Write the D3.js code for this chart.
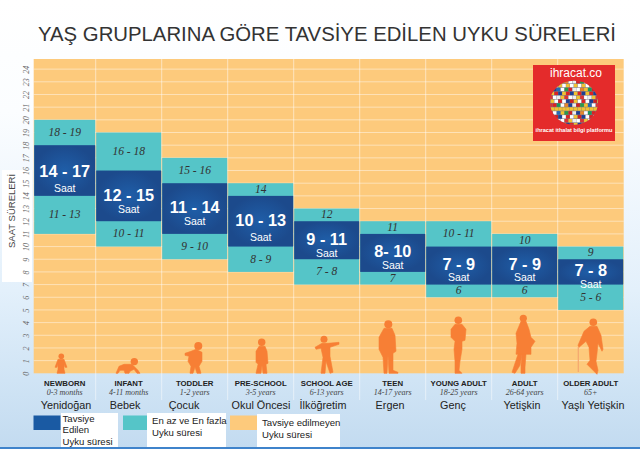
<!DOCTYPE html>
<html>
<head>
<meta charset="utf-8">
<script src="https://cdnjs.cloudflare.com/ajax/libs/d3/7.8.5/d3.min.js"></script>
<style>
html, body { margin: 0; padding: 0; background: #fff; }
svg { display: block; font-family: "Liberation Sans", Arial, sans-serif; }
.serif { font-family: "Liberation Serif", serif; font-style: italic; }
</style>
</head>
<body>
<div id="chart"></div>
<script>
// chart values
const groups = ["NEWBORN", "INFANT", "TODDLER", "PRE-SCHOOL", "SCHOOL AGE", "TEEN", "YOUNG ADULT", "ADULT", "OLDER ADULT"];
const ages = ["0-3 months", "4-11 months", "1-2 years", "3-5 years", "6-13 years", "14-17 years", "18-25 years", "26-64 years", "65+"];
const turkish = ["Yenidoğan", "Bebek", "Çocuk", "Okul Öncesi", "İlköğretim", "Ergen", "Genç", "Yetişkin", "Yaşlı Yetişkin"];

// drawn heights of the three stacked blocks
const tealBottom = [11, 10, 9, 8, 7, 7, 6, 6, 5];
const blueBottom = [14, 12, 11, 10, 9, 8, 7, 7, 7];
const blueTop = [18, 16, 15, 14, 12, 11, 10, 10, 9];
const tealTop = [20, 19, 17, 15, 13, 12, 12, 11, 10];

const blueLabels = ["14 - 17", "12 - 15", "11 - 14", "10 - 13", "9 - 11", "8- 10", "7 - 9", "7 - 9", "7 - 8"];
const upperLabels = ["18 - 19", "16 - 18", "15 - 16", "14", "12", "11", "10 - 11", "10", "9"];
const lowerLabels = ["11 - 13", "10 - 11", "9 - 10", "8 - 9", "7 - 8", "7", "6", "6", "5 - 6"];

const hourTicks = d3.range(0, 25);

const legendItems = [
  {color: "#1a5aa3", lines: ["Tavsiye", "Edilen", "Uyku süresi"]},
  {color: "#55c5c8", lines: ["En az ve En fazla", "Uyku süresi"]},
  {color: "#fdca7c", lines: ["Tavsiye edilmeyen", "Uyku süresi"]}
];

const width = 640, height = 449;
const plot = {left: 33.7, right: 623.7, top: 59, bottom: 373.3};

const svg = d3.select("#chart").append("svg")
  .attr("width", width)
  .attr("height", height);

const defs = svg.append("defs");

const bg = defs.append("linearGradient").attr("id", "bg")
  .attr("x1", 0).attr("y1", 0).attr("x2", 0).attr("y2", 1);
bg.append("stop").attr("offset", "0%").attr("stop-color", "#ffffff");
bg.append("stop").attr("offset", "25%").attr("stop-color", "#fbfdff");
bg.append("stop").attr("offset", "65%").attr("stop-color", "#e3f0fb");
bg.append("stop").attr("offset", "85%").attr("stop-color", "#d0e4f5");
bg.append("stop").attr("offset", "100%").attr("stop-color", "#c3dbf0");

const blueGrad = defs.append("radialGradient").attr("id", "blue");
blueGrad.append("stop").attr("offset", "0%").attr("stop-color", "#1f5ea8");
blueGrad.append("stop").attr("offset", "100%").attr("stop-color", "#1c4a8c");

svg.append("rect").attr("width", width).attr("height", height - 2).attr("fill", "url(#bg)");
svg.append("rect").attr("y", height - 2).attr("width", width).attr("height", 2).attr("fill", "#3f83cb");
// pale patch behind the axis title
svg.append("rect").attr("x", 2).attr("y", 170).attr("width", 30).attr("height", 112).attr("fill", "#fff");

// first column is cut by the left edge of the plot
const x = d3.scaleBand().domain(groups).range([29.7, plot.right]);
const y = d3.scaleLinear().domain([0, 24.8]).range([plot.bottom, plot.top]);

const colLeft = d => Math.max(x(d), plot.left);
const colWidth = d => x(d) + x.bandwidth() - colLeft(d);
const colMid = d => colLeft(d) + colWidth(d) / 2;

svg.append("rect")
  .attr("x", plot.left).attr("y", plot.top)
  .attr("width", plot.right - plot.left).attr("height", plot.bottom - plot.top)
  .attr("fill", "#fdca7c");

// hour lines
svg.append("g").selectAll("line").data(hourTicks.slice(1)).join("line")
  .attr("x1", plot.left).attr("x2", plot.right)
  .attr("y1", d => y(d)).attr("y2", d => y(d))
  .attr("stroke", "#fff").attr("stroke-opacity", 0.45);

// column lines run on below the plot
svg.append("g").selectAll("line").data(groups.slice(1)).join("line")
  .attr("x1", d => x(d)).attr("x2", d => x(d))
  .attr("y1", plot.top).attr("y2", 400)
  .attr("stroke", "#fff").attr("stroke-opacity", 0.5);

const cols = svg.append("g").selectAll("g").data(groups).join("g");

cols.append("rect")
  .attr("x", d => colLeft(d) + 0.5)
  .attr("width", d => colWidth(d) - 1)
  .attr("y", (d, i) => y(tealTop[i]))
  .attr("height", (d, i) => y(tealBottom[i]) - y(tealTop[i]))
  .attr("fill", "#55c5c8");

cols.append("rect")
  .attr("x", d => colLeft(d) + 0.5)
  .attr("width", d => colWidth(d) - 1)
  .attr("y", (d, i) => y(blueTop[i]))
  .attr("height", (d, i) => y(blueBottom[i]) - y(blueTop[i]))
  .attr("fill", "url(#blue)");

// y axis, numbers turned on their side
const yAxis = svg.append("g")
  .attr("transform", `translate(${plot.left},0)`)
  .call(d3.axisLeft(y).tickValues(hourTicks).tickSize(0).tickFormat(d3.format("d")));
yAxis.select(".domain").remove();
yAxis.selectAll("text")
  .attr("class", "serif")
  .attr("x", 0).attr("dy", 0)
  .attr("transform", "translate(-4.5,0) rotate(-90)")
  .attr("text-anchor", "middle")
  .attr("font-size", 8)
  .attr("fill", "#666");

svg.append("text")
  .attr("transform", "translate(15,248) rotate(-90)")
  .attr("font-size", 9.5)
  .attr("fill", "#444")
  .text("SAAT SÜRELERİ");

// title
svg.append("text")
  .attr("x", 38).attr("y", 41)
  .attr("font-size", 20)
  .attr("textLength", 578)
  .attr("lengthAdjust", "spacingAndGlyphs")
  .attr("fill", "#333")
  .text("YAŞ GRUPLARINA GÖRE TAVSİYE EDİLEN UYKU SÜRELERİ");

// text in the blocks, offsets from the middle of the blue block
const numberDrop = [6, 5.2, 4.7, 5, 5, 3.7, 4, 4, 4];
const saatDrop = [21, 17, 16.5, 19.5, 16.7, 16, 15.7, 15.7, 16.5];
const blueMid = i => (y(blueTop[i]) + y(blueBottom[i])) / 2;

cols.append("text")
  .attr("x", colMid)
  .attr("y", (d, i) => blueMid(i) + numberDrop[i])
  .attr("text-anchor", "middle")
  .attr("font-size", 16.3)
  .attr("font-weight", "bold")
  .attr("fill", "#fff")
  .text((d, i) => blueLabels[i]);

cols.append("text")
  .attr("x", colMid)
  .attr("y", (d, i) => blueMid(i) + saatDrop[i])
  .attr("text-anchor", "middle")
  .attr("font-size", 10.5)
  .attr("fill", "#fff")
  .text("Saat");

cols.append("text")
  .attr("class", "serif")
  .attr("x", colMid)
  .attr("y", (d, i) => (y(tealTop[i]) + y(blueTop[i])) / 2 + 3.5)
  .attr("text-anchor", "middle")
  .attr("font-size", 11.5)
  .attr("fill", "#333")
  .text((d, i) => upperLabels[i]);

cols.append("text")
  .attr("class", "serif")
  .attr("x", colMid)
  .attr("y", (d, i) => (y(blueBottom[i]) + y(tealBottom[i])) / 2 + 3.5)
  .attr("text-anchor", "middle")
  .attr("font-size", 11.5)
  .attr("fill", "#333")
  .text((d, i) => lowerLabels[i]);

// labels under the plot
cols.append("text")
  .attr("x", colMid).attr("y", 386)
  .attr("text-anchor", "middle")
  .attr("font-size", 7.8)
  .attr("font-weight", "bold")
  .attr("fill", "#222")
  .text(d => d);

cols.append("text")
  .attr("class", "serif")
  .attr("x", colMid).attr("y", 394.7)
  .attr("text-anchor", "middle")
  .attr("font-size", 8)
  .attr("fill", "#444")
  .text((d, i) => ages[i]);

const turkishX = [66, 125, 184, 261, 323, 390, 453, 522, 593];
svg.append("g").selectAll("text").data(turkish).join("text")
  .attr("x", (d, i) => turkishX[i]).attr("y", 409)
  .attr("text-anchor", "middle")
  .attr("font-size", 10.8)
  .attr("fill", "#222")
  .text(d => d);

// people, local coords: feet on y=0, one unit is one pixel
const people = [
  {cx: 61, head: [0.3, -17, 2.8], body: "M-3,-14 L3,-14 L6,-6 L4,-6 L3,-9 L3,-4 L4,0 L-4,0 L-3,-4 L-3,-9 L-4,-6 L-6,-6 Z"},
  {cx: 127, head: [7.3, -11.7, 3.7], body: "M-11,0 L-8,-7 L-3,-9 L5,-9 L11,-3 L13,0 L10,0 L7,-4 L3,-2 L2,0 L-2,0 L-3,-3 L-7,-3 L-9,0 Z"},
  {cx: 194, head: [4.3, -27.3, 4], body: "M2,-24 L8,-21 L8,-12 L5,-7 L7,0 L3,0 L1,-6 L-1,0 L-4,0 L-3,-7 L-6,-12 L-5,-17 L-9,-18 L-9,-20 L-3,-22 Z"},
  {cx: 262, head: [-0.3, -31, 3.7], body: "M-3,-27 L3,-27 L5,-22 L6,-10 L4,-9 L5,0 L1,0 L0,-8 L-1,0 L-6,0 L-4,-9 L-6,-11 L-6,-22 Z"},
  {cx: 326, head: [-2, -34, 3.5], body: "M-4,-30 L2,-30 L13,-31 L13,-29 L4,-26 L4,-17 L7,-1 L4,0 L0,-12 L-1,0 L-5,0 L-3,-16 L-5,-25 L-10,-24 L-11,-26 Z"},
  {cx: 388, head: [0.3, -49, 4], body: "M-4,-45 L4,-45 L7,-38 L8,-22 L5,-20 L5,-3 L10,-1 L10,0 L1,0 L0,-18 L-1,0 L-4,0 L-5,-16 L-9,-24 L-9,-36 Z"},
  {cx: 458, head: [0.3, -53, 3.8], body: "M-3,-49 L4,-49 L8,-44 L7,-33 L4,-32 L4,-24 L2,-12 L1,-3 L4,0 L-3,0 L-3,-12 L-4,-24 L-3,-32 L-7,-36 L-7,-44 Z"},
  {cx: 523, head: [0.3, -55, 3.6], body: "M-2,-52 L3,-52 L6,-44 L8,-36 L12,-32 L8,-26 L8,-19 L-7,-19 L-6,-30 L-7,-40 Z M-5,-19 L-1,-19 L-3,-8 L-8,0 L-11,-1 Z M-1,-19 L3,-19 L2,-6 L2,0 L-2,0 L-2,-8 Z"},
  {cx: 590, head: [3.3, -51, 3.8], body: "M0,-47 L7,-47 L11,-38 L13,-24 L12,-22 L8,-30 L7,-20 L6,-12 L8,-3 L7,1 L0,-6 L-3,-9 L0,-13 L-1,-26 L-4,-32 L-11,-26 L-12,-28 L-6,-42 Z"}
];
const personGroups = svg.append("g").selectAll("g").data(people).join("g")
  .attr("transform", d => `translate(${d.cx},${plot.bottom})`)
  .attr("fill", "#f77f35");
personGroups.append("circle")
  .attr("cx", d => d.head[0]).attr("cy", d => d.head[1]).attr("r", d => d.head[2]);
personGroups.append("path").attr("d", d => d.body)
  .attr("stroke", "#f77f35").attr("stroke-width", 0.6).attr("stroke-linejoin", "round");
svg.append("line")
  .attr("x1", 578.3).attr("x2", 578.3).attr("y1", 347).attr("y2", 372)
  .attr("stroke", "#f4a66f").attr("stroke-width", 1.2);

// legend
const legendBoxes = [
  {sx: 33.5, sw: 27, bx: 61, bw: 57, by: 413, ty: 421.7, gap: 11.7, tx: 62.5},
  {sx: 123, sw: 24, bx: 147, bw: 79, by: 413, ty: 424, gap: 11.5, tx: 152},
  {sx: 230, sw: 27, bx: 257, bw: 83, by: 414, ty: 426, gap: 11.5, tx: 262}
];
const legend = svg.append("g").selectAll("g").data(legendItems).join("g");
legend.append("rect")
  .attr("x", (d, i) => legendBoxes[i].sx).attr("y", 415.5)
  .attr("width", (d, i) => legendBoxes[i].sw).attr("height", 14.5)
  .attr("fill", d => d.color);
legend.append("rect")
  .attr("x", (d, i) => legendBoxes[i].bx).attr("y", (d, i) => legendBoxes[i].by)
  .attr("width", (d, i) => legendBoxes[i].bw).attr("height", (d, i) => 447 - legendBoxes[i].by)
  .attr("fill", "#fff");
legend.each(function(d, i) {
  const box = legendBoxes[i];
  d3.select(this).selectAll("text").data(d.lines).join("text")
    .attr("x", box.tx)
    .attr("y", (t, k) => box.ty + k * box.gap)
    .attr("font-size", 9.6)
    .attr("fill", "#222")
    .text(t => t);
});

// logo block
const logo = svg.append("g");
logo.append("rect").attr("x", 533).attr("y", 65).attr("width", 82).attr("height", 76).attr("fill", "#e42b2b");
logo.append("text").attr("x", 576).attr("y", 77).attr("text-anchor", "middle")
  .attr("font-size", 12).attr("fill", "#fff").text("ihracat.co");
logo.append("text").attr("x", 574).attr("y", 131.7).attr("text-anchor", "middle")
  .attr("font-size", 5.6).attr("font-weight", "bold").attr("fill", "#fff").text("ihracat ithalat bilgi platformu");
defs.append("clipPath").attr("id", "globe").append("ellipse")
  .attr("cx", 574).attr("cy", 102.7).attr("rx", 24).attr("ry", 22);
const flagColors = ["#d33", "#fff", "#246bb5", "#f2c230", "#2b9a48", "#c22", "#eee", "#1c3f94", "#e8862a", "#fff", "#189a5b", "#d22"];
const globe = logo.append("g").attr("clip-path", "url(#globe)");
globe.append("rect").attr("x", 548).attr("y", 78).attr("width", 52).attr("height", 50).attr("fill", "#778");
d3.range(12).forEach(r => d3.range(13).forEach(c => {
  globe.append("rect")
    .attr("x", 549 + c * 3.9 + (r % 2) * 1.5).attr("y", 80 + r * 3.9)
    .attr("width", 3.6).attr("height", 3.4)
    .attr("fill", flagColors[(r * r * 3 + c * 5 + r * c) % flagColors.length]);
}));
</script>
</body>
</html>
